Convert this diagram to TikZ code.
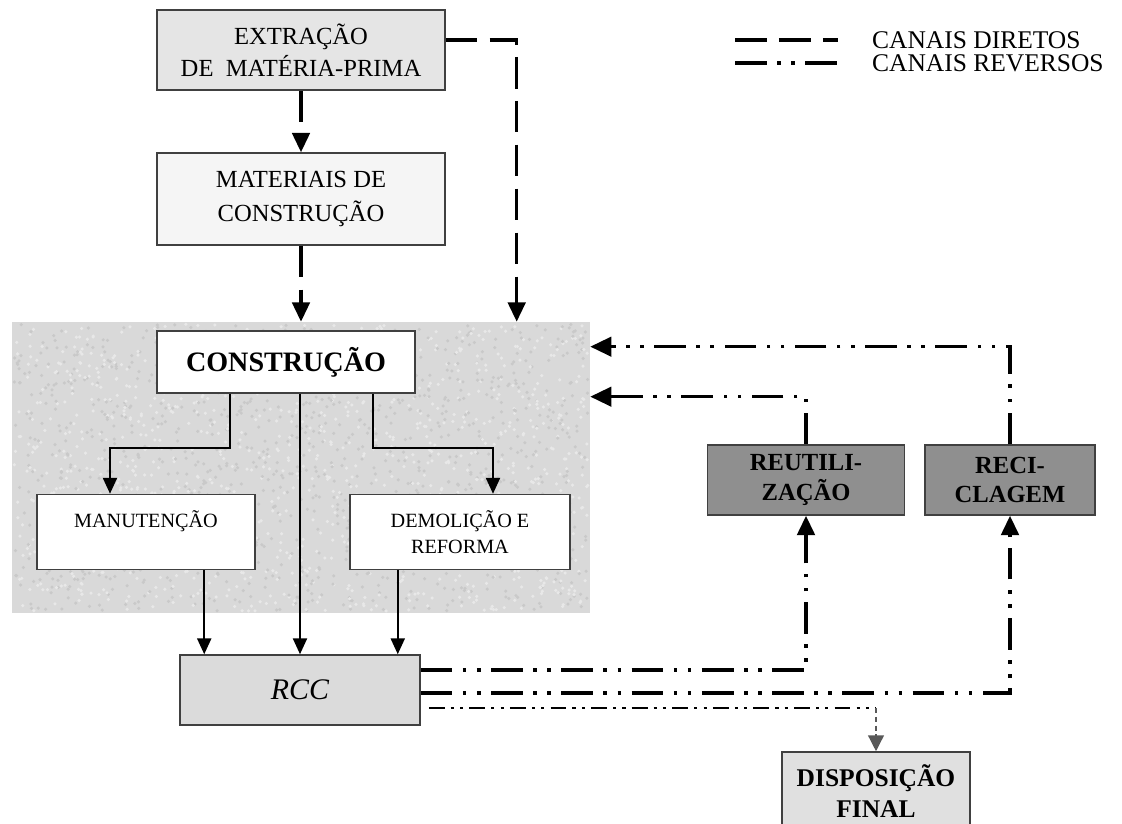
\documentclass[tikz,border=0pt]{standalone}
\usepackage{fontspec}
\setmainfont{Liberation Serif}
\usetikzlibrary{arrows.meta,calc,positioning}

\begin{document}
\begin{tikzpicture}[
    x=0.02cm, y=-0.02cm,
    every node/.style={font=\fontsize{14}{18}\selectfont},
    >={Triangle[width=10pt,length=11pt]},
    caixa/.style={
      draw=black!75,
      line width=0.9pt,
      align=center,
      inner sep=2pt
    },
    fino/.style={
      ->,
      line width=1pt,
      >={Triangle[width=8pt,length=9pt]}
    },
    direto/.style={
      line width=1.8pt,
      dash pattern=on 18pt off 7pt
    },
    reverso/.style={
      line width=1.9pt,
      dash pattern=on 18pt off 6pt on 2pt off 6pt on 2pt off 6pt
    },
    reversodenso/.style={
      line width=1.7pt,
      dash pattern=on 9pt off 3.5pt on 1.8pt off 3.5pt on 1.8pt off 3.5pt
    }
  ]
  \useasboundingbox (0,0) rectangle (1122,824);

  % Area de construcao (fundo texturizado)
  \node [
    minimum width=11.56cm,
    minimum height=5.82cm,
    inner sep=0pt,
    fill=black!15
  ] (area) at (301,467.5) {};
  \pgfmathsetseed{17}
  \foreach \i in {1,...,1100} {
    \fill[black!21] ({14+574*rnd},{324+287*rnd}) circle[radius=0.035cm];
    \fill[black!9] ({14+574*rnd},{324+287*rnd}) circle[radius=0.035cm];
  }

  % Caixas
  \node [
    caixa,
    fill=black!10,
    minimum width=5.76cm,
    minimum height=1.6cm
  ] (extracao) at (301,50) {EXTRAÇÃO\\DE~ MATÉRIA-PRIMA};
  \node [
    caixa,
    fill=black!4,
    minimum width=5.76cm,
    minimum height=1.84cm,
    font=\fontsize{14}{19}\selectfont
  ] (materiais) at (301,199) {MATERIAIS DE\\CONSTRUÇÃO};
  \node [
    caixa,
    fill=white,
    minimum width=5.16cm,
    minimum height=1.24cm,
    font=\fontsize{16}{19}\selectfont\bfseries
  ] (construcao) at (286,362) {CONSTRUÇÃO};
  \node [
    caixa,
    fill=white,
    minimum width=4.36cm,
    minimum height=1.5cm,
    font=\fontsize{11.5}{15}\selectfont
  ] (manutencao) at (146,532) {MANUTENÇÃO\\~};
  \node [
    caixa,
    fill=white,
    minimum width=4.4cm,
    minimum height=1.5cm,
    font=\fontsize{11.5}{15}\selectfont
  ] (demolicao) at (460,532) {DEMOLIÇÃO E\\REFORMA};
  \node [
    caixa,
    fill=black!14,
    minimum width=4.8cm,
    minimum height=1.4cm,
    font=\fontsize{17}{20}\selectfont\itshape
  ] (rcc) at (300,690) {RCC};
  \node [
    caixa,
    fill=black!44,
    minimum width=3.94cm,
    minimum height=1.4cm,
    font=\fontsize{14}{17}\selectfont\bfseries
  ] (reutil) at (806,480) {REUTILI-\\ZAÇÃO};
  \node [
    caixa,
    fill=black!44,
    minimum width=3.4cm,
    minimum height=1.4cm,
    font=\fontsize{14}{17}\selectfont\bfseries
  ] (recicl) at (1010,480) {RECI-\\CLAGEM};
  \node [
    caixa,
    fill=black!12,
    minimum width=3.76cm,
    minimum height=1.56cm,
    inner sep=0pt,
    font=\fontsize{14.5}{17.5}\selectfont\bfseries
  ] (disposicao) at (876,791) {DISPOSIÇÃO\\FINAL};

  % Legenda
  \node [anchor=west, font=\fontsize{14.5}{17}\selectfont] (legdir) at (866,40) {CANAIS DIRETOS};
  \node [anchor=west, font=\fontsize{14.5}{17}\selectfont] (legrev) at (866,63) {CANAIS REVERSOS};
  \coordinate (ld1) at (735,40);
  \coordinate (ld2) at (735,63);
  \draw[direto] (ld1) -- ++(103,0);
  \draw[reverso] (ld2) -- ++(103,0);

  % Canais diretos
  \draw[direto,->] (extracao.south) -- (materiais.north);
  \draw[direto,->] (materiais.south) -- (materiais.south |- area.north);
  \coordinate (e1) at ($(extracao.east)+(0,-10)$);
  \coordinate (t1) at ($(area.north west)+(505,0)$);
  \draw[direto,->] (e1) -| (t1);

  % Dentro da construcao
  \draw[fino] ($(construcao.south)+(-56,0)$) -- ++(0,54) -| ($(manutencao.north)+(-36,0)$);
  \draw[fino] ($(construcao.south)+(87,0)$) -- ++(0,54) -| ($(demolicao.north)+(33,0)$);
  \draw[fino] (construcao.south -| rcc.north) -- (rcc.north);
  \coordinate (m1) at ($(rcc.north west)+(25,0)$);
  \coordinate (m2) at ($(rcc.north east)+(-23,0)$);
  \draw[fino] (m1 |- manutencao.south) -- (m1);
  \draw[fino] (m2 |- demolicao.south) -- (m2);

  % Canais reversos
  \draw[reverso,->] ($(rcc.east)+(0,-20)$) -| (reutil.south);
  \draw[reverso,->] ($(rcc.east)+(0,3)$) -| (recicl.south);
  \coordinate (d0) at ($(rcc.east)+(8,18)$);
  \coordinate (d1) at (d0 -| disposicao.north);
  \draw[reversodenso] (d0) -- (d1);
  \draw[->, black!65, line width=0.8pt, dash pattern=on 3pt off 2pt,
        >={Triangle[width=9pt,length=9pt]}] (d1) -- (disposicao.north);
  \coordinate (fb1) at ($(area.north east)+(0,25)$);
  \coordinate (fb2) at ($(area.north east)+(0,75)$);
  \draw[reverso,->,>={Triangle[width=11pt,length=12pt]}] (recicl.north) |- (fb1);
  \draw[reverso,->,>={Triangle[width=11pt,length=12pt]}] (reutil.north) |- (fb2);

\end{tikzpicture}
\end{document}
